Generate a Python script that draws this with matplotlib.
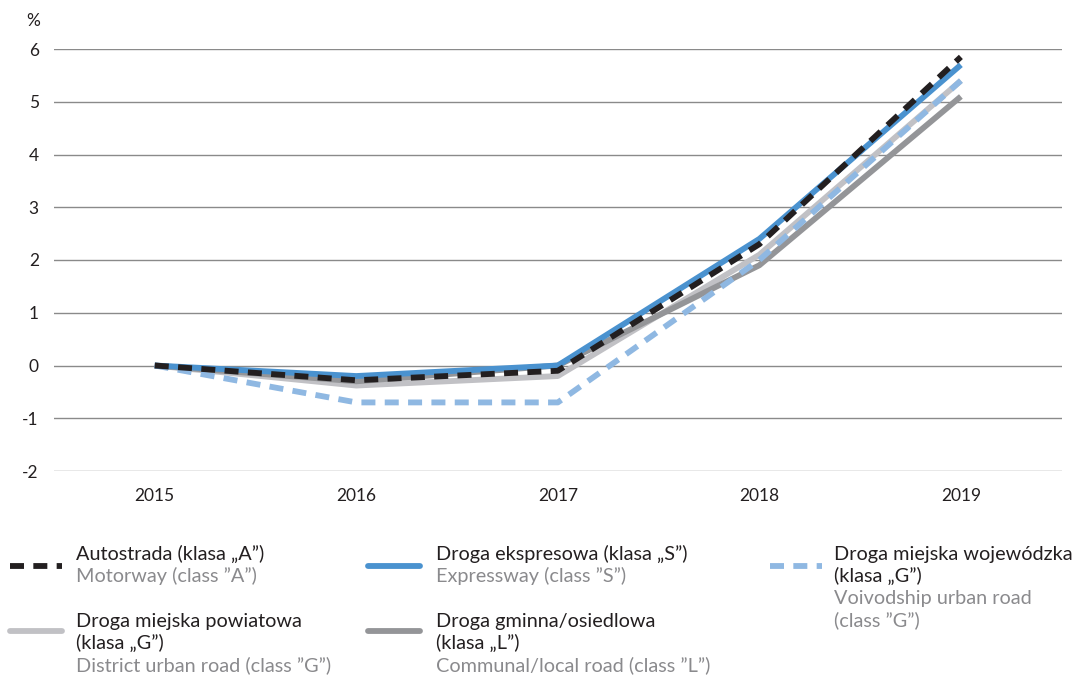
import matplotlib
matplotlib.use("Agg")
import matplotlib.pyplot as plt
from matplotlib.lines import Line2D

plt.rcParams['font.family'] = ['Lato', 'DejaVu Sans']

years = ["2015", "2016", "2017", "2018", "2019"]
motorway = [0.0, -0.28, -0.1, 2.3, 5.85]
expressway = [0.0, -0.2, 0.0, 2.4, 5.7]
voivodship = [0.0, -0.7, -0.7, 2.0, 5.4]
district = [0.0, -0.38, -0.2, 2.1, 5.4]
communal = [0.0, -0.3, 0.0, 1.9, 5.1]
yticks = [-2, -1, 0, 1, 2, 3, 4, 5, 6]

c_black = "#231f20"
c_blue = "#4a92cf"
c_lblue = "#8fb8e2"
c_lgray = "#c1c1c5"
c_dgray = "#949598"
c_text2 = "#8a8a8d"

fig = plt.figure(figsize=(10.8, 6.76), dpi=100)
ax = fig.add_axes([0.05, 1 - 471 / 676, 0.933, (471 - 49) / 676])

x = range(len(years))
lw = 4.2
ax.plot(x, district, color=c_lgray, lw=lw, solid_capstyle="butt", zorder=2)
ax.plot(x, communal, color=c_dgray, lw=lw, solid_capstyle="butt", zorder=3)
ax.plot(x, voivodship, color=c_lblue, lw=lw, dashes=(2.4, 1.6), zorder=4)
ax.plot(x, expressway, color=c_blue, lw=lw, solid_capstyle="butt", zorder=5)
ax.plot(x, motorway, color=c_black, lw=lw, dashes=(2.4, 1.6), zorder=6)

ax.set_xlim(-0.5, 4.5)
ax.set_ylim(-2, 6)
ax.set_xticks(list(x))
ax.set_xticklabels(years)
ax.set_yticks(yticks)
ax.set_yticklabels([str(v) for v in yticks])
ax.yaxis.grid(True, color="#8a8a8a", lw=1)
ax.set_axisbelow(True)
for s in ax.spines.values():
    s.set_visible(False)
ax.tick_params(axis="both", length=0, labelsize=12.5, colors="#231f20")
ax.tick_params(axis="y", pad=11)
ax.tick_params(axis="x", pad=12)
fig.text(33 / 1080, 1 - 21 / 676, "%", fontsize=12.5, ha="center", va="center", color="#231f20")

# legend
def px(xp, yp):
    return xp / 1080, 1 - yp / 676

entries = [
    (10, 566, 76, 560, ["Autostrada (klasa \u201eA\u201d)"], ["Motorway (class \u201dA\u201d)"], c_black, True),
    (368, 566, 436, 560, ["Droga ekspresowa (klasa \u201eS\u201d)"], ["Expressway (class \u201dS\u201d)"], c_blue, False),
    (770, 566, 834, 560, ["Droga miejska wojewódzka", "(klasa \u201eG\u201d)"], ["Voivodship urban road", "(class \u201dG\u201d)"], c_lblue, True),
    (10, 631, 76, 627, ["Droga miejska powiatowa", "(klasa \u201eG\u201d)"], ["District urban road (class \u201dG\u201d)"], c_lgray, False),
    (368, 631, 436, 627, ["Droga gminna/osiedlowa", "(klasa \u201eL\u201d)"], ["Communal/local road (class \u201dL\u201d)"], c_dgray, False),
]
lh = 22
fs = 14.3
for lx, ly, tx, ty, pl, en, col, dashed in entries:
    x0, y0 = px(lx, ly)
    x1, _ = px(lx + 52, ly)
    kw = dict(dashes=(2.4, 1.6)) if dashed else dict(solid_capstyle="round")
    fig.add_artist(Line2D([x0, x1], [y0, y0], color=col, lw=lw, transform=fig.transFigure, **kw))
    yy = ty
    for t in pl:
        fig.text(*px(tx, yy), t, fontsize=fs, color="#231f20", ha="left", va="baseline")
        yy += lh
    for t in en:
        fig.text(*px(tx, yy), t, fontsize=fs, color=c_text2, ha="left", va="baseline")
        yy += lh

fig.savefig("out.png", dpi=100)
